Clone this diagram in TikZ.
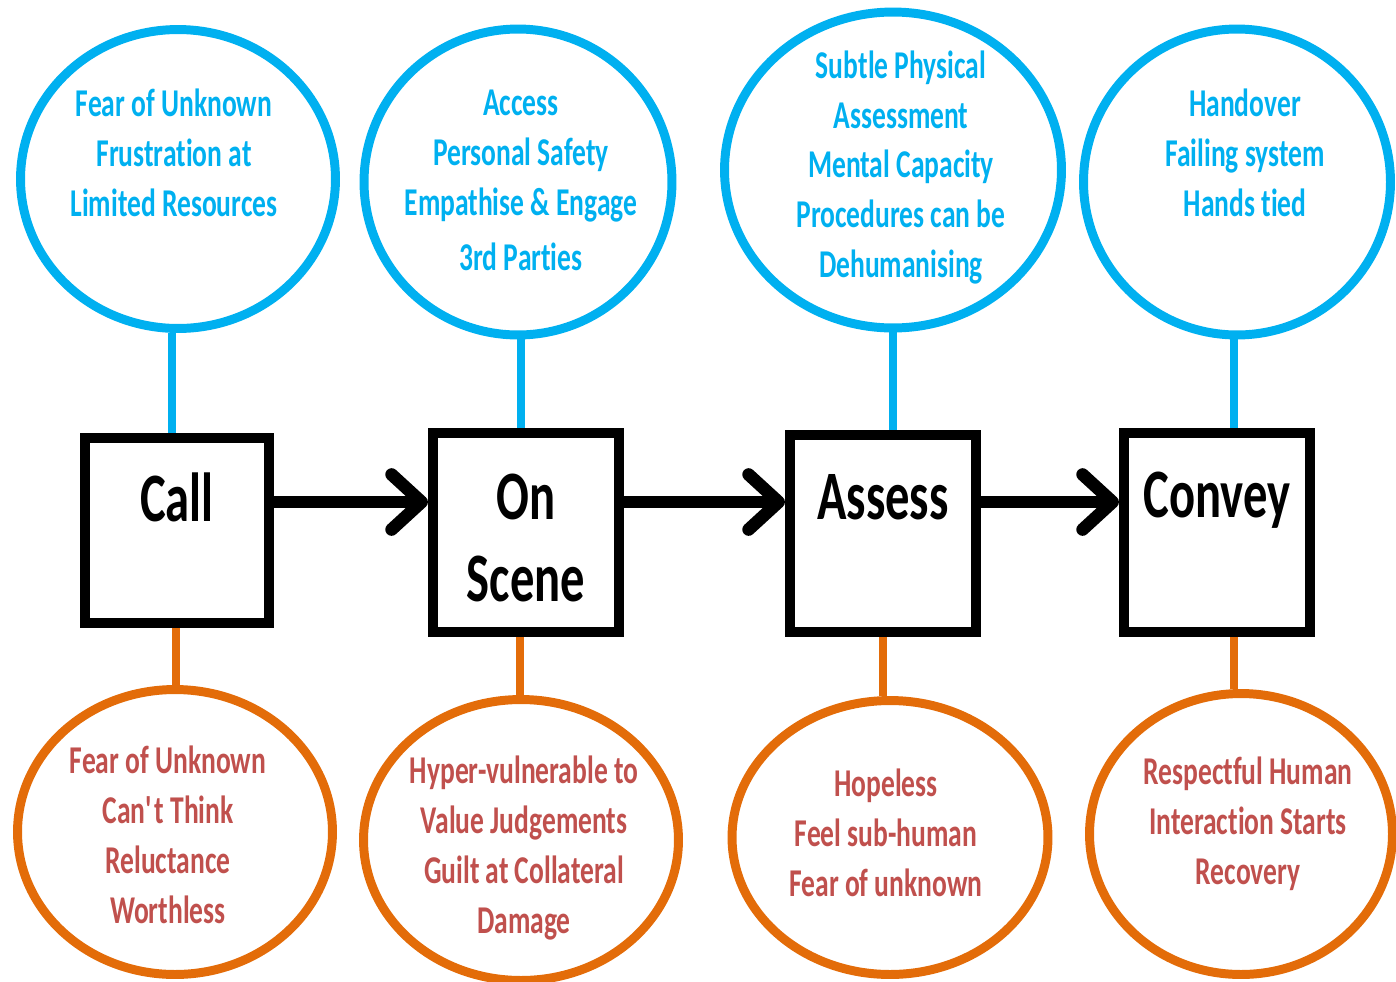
\documentclass[tikz,border=0pt]{standalone}
\usepackage{fontspec}
\setmainfont{Carlito}[FakeStretch=0.70, Ligatures=NoCommon]
\usepackage{xcolor}
\usepackage{tikz}
\usetikzlibrary{shapes.geometric}
\usetikzlibrary{arrows.meta}
\definecolor{skyblue}{HTML}{00B0F0}
\definecolor{burnt}{HTML}{E36C09}
\definecolor{brick}{HTML}{C0504D}
\tikzset{stage/.style={draw, line width=5.8pt, rectangle, inner sep=0pt}}
\tikzset{stagetext/.style={font=\bfseries\fontsize{39.5}{47}\selectfont, align=center}}
\tikzset{worry/.style={draw=skyblue, line width=5.1pt, ellipse, inner sep=0pt}}
\tikzset{worrytext/.style={text=skyblue, font=\bfseries\fontsize{22.4}{28.4}\selectfont, align=center}}
\tikzset{feeling/.style={draw=burnt, line width=5.1pt, ellipse, inner sep=0pt}}
\tikzset{feelingtext/.style={text=brick, font=\bfseries\fontsize{22.4}{28.4}\selectfont, align=center}}
\tikzset{stem/.style={line width=5.1pt}}
\tikzset{flow/.style={line width=7.2pt, -{Straight Barb[length=0.6cm, width=1.1cm, round]}}}

\begin{document}
\begin{tikzpicture}[x=0.02cm, y=-0.02cm]
\useasboundingbox (0,0) rectangle (1396,981);
\clip (0,0) rectangle (1396,981);
{
% stages
\node[stage, minimum width=3.68cm, minimum height=3.70cm] (call) at (177,530.5) {};
\node[stage, minimum width=3.72cm, minimum height=3.98cm] (scene) at (526,532.5) {};
\node[stage, minimum width=3.72cm, minimum height=3.94cm] (assess) at (883,533.5) {};
\node[stage, minimum width=3.72cm, minimum height=3.98cm] (convey) at (1217,532.5) {};
\node[stagetext] (calltext) at (177,497) {Call};
\node[stagetext] (scenetext) at (526,538) {On\\Scene};
\node[stagetext] (assesstext) at (883,497) {Assess};
\node[stagetext] (conveytext) at (1217,500) {Convey};

% what the crew faces
\node[worry, minimum width=6.30cm, minimum height=5.98cm] (callworry) at (178,179) {};
\node[worry, minimum width=6.16cm, minimum height=6.12cm] (sceneworry) at (518,182) {};
\node[worry, minimum width=6.74cm, minimum height=6.32cm] (assessworry) at (893,170) {};
\node[worry, minimum width=6.14cm, minimum height=6.12cm] (conveyworry) at (1237,182) {};
\node[worrytext] (callworrytext) at (174,152.5) {Fear of Unknown\\Frustration at\\Limited Resources};
\node[worrytext] (sceneworrytext) at (521,180.5) {Access\\Personal Safety\\Empathise \& Engage\\[0.1cm]3rd Parties};
\node[worrytext] (assessworrytext) at (901,167.5) {Subtle Physical\\Assessment\\Mental Capacity\\Procedures can be\\Dehumanising};
\node[worrytext] (conveyworrytext) at (1245,152.5) {Handover\\Failing system\\Hands tied};

% what the patient feels
\node[feeling, minimum width=6.30cm, minimum height=5.70cm] (callfeeling) at (175,832) {};
\node[feeling, minimum width=6.30cm, minimum height=5.62cm] (scenefeeling) at (521,840) {};
\node[feeling, minimum width=6.32cm, minimum height=5.48cm] (assessfeeling) at (890,837.5) {};
\node[feeling, minimum width=6.06cm, minimum height=5.62cm] (conveyfeeling) at (1241,834) {};
\node[feelingtext] (callfeelingtext) at (168,834.5) {Fear of Unknown\\Can\textquotesingle t Think\\Reluctance\\Worthless};
\node[feelingtext] (scenefeelingtext) at (524,848) {Hyper-vulnerable to\\Value Judgements\\Guilt at Collateral\\Damage};
\node[feelingtext] (assessfeelingtext) at (886,832.5) {Hopeless\\Feel sub-human\\Fear of unknown};
\node[feelingtext] (conveyfeelingtext) at (1248,823.5) {Respectful Human\\Interaction Starts\\Recovery};

% stems, offsets in px
\foreach \s/\bx/\ox in {call/-6/1, scene/3/-1, assess/0/-7, convey/-3/-7}
{
\draw[stem, skyblue] ([xshift=\bx*0.02cm]\s worry.south) -- ([xshift=\bx*0.02cm]\s worry.south |- \s.north);
\draw[stem, burnt] ([xshift=\ox*0.02cm]\s feeling.north) -- ([xshift=\ox*0.02cm]\s feeling.north |- \s.south);
}

\coordinate (flowline) at (0,502);
\draw[flow] (call.east |- flowline) -- (scene.west |- flowline);
\draw[flow] (scene.east |- flowline) -- (assess.west |- flowline);
\draw[flow] (assess.east |- flowline) -- (convey.west |- flowline);
}
\end{tikzpicture}
\end{document}
